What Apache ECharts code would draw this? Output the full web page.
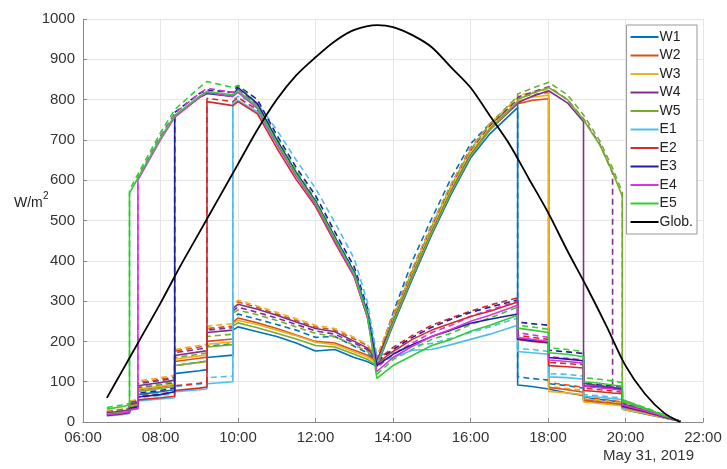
<!DOCTYPE html>
<html><head><meta charset="utf-8">
<script src="https://cdn.jsdelivr.net/npm/echarts@6/dist/echarts.min.js"></script>
<style>html,body{margin:0;padding:0;background:#fff}#c{width:727px;height:469px}</style>
</head><body><div id="c"></div>
<script>
// shared time grid (duplicate times = vertical jumps)
const T = ['06:37','07:00','07:12','07:12','07:25','07:25','08:00','08:22','08:22','09:00','09:12','09:12','09:52','09:52','10:00','10:30','11:00','11:30','12:00','12:30','13:00','13:20','13:35','14:00','14:30','15:00','15:30','16:00','16:30','17:13','17:13','17:35','18:01','18:01','18:30','18:55','18:55','19:20','19:40','19:40','19:55','19:55','20:30','21:00','21:25'];

const W1  = [18,22,25,36,40,68,75,80,120,127,130,160,166,228,236,224,212,196,176,180,160,150,138,240,355,465,565,655,715,780,92,88,82,78,72,66,52,48,45,44,42,32,20,10,2];
const W1d = [24,28,31,46,50,85,92,97,140,148,151,188,194,258,268,255,242,228,210,212,188,172,150,270,400,505,605,690,740,790,112,108,104,95,90,84,60,56,52,50,48,36,24,12,2];
const W2  = [20,25,28,40,44,80,87,92,150,158,161,200,206,248,258,246,232,216,200,196,178,166,150,250,365,475,575,665,725,790,792,798,802,86,80,74,55,50,47,46,44,34,22,11,2];
const W2d = [26,31,34,50,54,98,106,112,176,186,189,232,238,288,298,284,268,252,236,228,206,190,160,265,380,490,590,680,738,800,805,812,818,98,92,86,62,57,53,52,50,38,25,12,2];
const W3  = [19,24,27,39,43,82,89,94,156,164,167,193,199,244,252,242,228,214,198,192,174,162,146,252,368,478,578,668,730,796,798,806,811,76,72,68,50,46,43,42,40,32,21,10,2];
const W3d = [27,32,35,52,56,102,110,116,180,190,193,238,244,292,302,288,272,256,240,232,210,192,162,262,378,488,588,676,740,805,810,818,826,88,83,78,58,53,50,49,47,36,24,12,2];
const W4  = [22,27,30,44,48,90,98,104,165,174,177,222,228,282,292,280,265,248,232,224,200,184,152,248,362,472,572,662,726,792,796,808,822,824,792,745,96,90,86,85,82,45,28,13,2];
const W4d = [25,30,33,48,52,95,103,109,172,181,184,228,234,276,285,272,258,242,226,218,196,180,150,256,372,482,582,672,734,800,806,818,832,834,800,752,752,690,618,92,88,48,30,14,2];
const W5  = [20,24,27,38,42,76,83,88,140,148,151,186,192,238,246,234,220,206,190,186,168,156,140,245,360,470,570,660,725,795,800,815,830,832,800,750,750,688,620,620,560,52,32,15,2];
const W5d = [24,29,32,45,49,88,95,101,160,168,172,212,218,270,278,266,252,236,220,212,190,176,148,258,375,485,585,675,740,808,814,828,843,845,812,762,762,698,630,630,570,56,34,16,2];
const E1  = [15,18,21,30,33,52,57,60,75,80,82,95,100,790,798,770,690,612,545,458,372,275,150,160,178,180,192,205,218,240,175,172,168,112,110,106,64,61,58,57,56,36,24,11,2];
const E1d = [18,22,25,35,38,60,66,70,88,94,97,110,114,800,808,790,725,650,580,495,405,300,165,172,190,195,208,222,236,258,182,180,175,120,118,114,68,65,62,61,60,38,25,12,2];
const E2  = [16,20,23,32,35,55,60,64,78,84,87,795,785,785,795,765,680,602,535,445,360,262,145,175,205,228,245,262,275,298,205,200,196,140,137,134,78,75,72,71,70,38,25,12,2];
const E2d = [20,24,27,38,41,65,70,75,90,96,99,803,795,795,805,775,690,612,545,455,370,270,152,185,215,240,258,275,290,308,215,210,205,148,145,142,84,80,77,76,74,40,26,13,2];
const E3  = [17,21,24,34,38,62,68,75,760,805,815,815,808,808,830,790,700,618,548,458,372,272,140,168,192,212,228,245,255,268,206,202,198,160,156,152,90,86,83,82,80,40,27,13,2];
const E3d = [21,25,28,40,44,72,78,85,768,815,824,824,818,818,835,800,712,632,562,472,385,285,150,180,210,235,255,272,285,303,248,244,240,178,174,170,96,92,89,88,86,44,29,14,2];
const E4  = [18,22,25,30,33,600,700,756,758,805,818,818,808,808,818,778,690,610,540,450,362,262,125,160,188,212,230,250,265,290,210,205,200,154,150,146,88,85,82,80,78,42,28,14,2];
const E4d = [22,26,29,35,38,608,710,766,768,815,828,828,818,818,826,786,700,620,548,458,370,270,135,168,196,222,240,262,278,300,222,216,210,162,158,154,94,90,87,85,83,44,30,15,2];
const E5  = [32,38,42,568,605,605,705,760,762,808,820,820,812,812,822,782,695,615,545,455,368,268,108,140,165,190,205,225,240,265,233,228,222,172,168,162,100,96,92,90,88,50,34,16,2];
const E5d = [36,42,46,575,615,615,718,775,777,830,845,845,830,830,835,790,705,625,552,462,375,275,118,155,180,205,220,242,258,285,240,236,230,184,180,175,110,106,102,100,98,55,36,18,2];

const globTimes = ['06:37','07:00','07:30','08:00','08:30','09:00','09:30','10:00','10:30','11:00','11:30','12:00','12:30','13:00','13:36','14:00','14:30','15:00','15:30','16:00','16:30','17:00','17:30','18:00','18:30','19:00','19:30','20:00','20:30','21:00','21:25'];
const globVals  = [60,125,210,295,385,470,555,640,725,800,860,905,945,973,985,980,960,930,880,830,760,690,605,520,425,335,240,140,70,22,0];

const names = ['W1','W2','W3','W4','W5','E1','E2','E3','E4','E5','Glob.'];
const colors = ['#0072BD','#D95319','#EDB120','#7E2F8E','#77AC30','#4DBEEE','#D42A2A','#1F1F9E','#DD33DD','#33CC33','#000000'];
const xTicks = ['06:00','08:00','10:00','12:00','14:00','16:00','18:00','20:00','22:00'];

function hrs(s){const p=s.split(':');return +p[0]+(+p[1])/60;}
function pairs(times, vals){return times.map((t,i)=>[hrs(t), vals[i]]);}

const solid = [W1,W2,W3,W4,W5,E1,E2,E3,E4,E5];
const dashed = [W1d,W2d,W3d,W4d,W5d,E1d,E2d,E3d,E4d,E5d];
const FONT = 'Liberation Sans, Arial, sans-serif';

const series = [];
solid.forEach((arr,i)=>{
  series.push({name:names[i], type:'line', data:pairs(T,arr), showSymbol:false, symbol:'none',
    lineStyle:{color:colors[i], width:1.6}, itemStyle:{color:colors[i]}, animation:false, z:3});
});
dashed.forEach((arr,i)=>{
  series.push({name:names[i]+' (sim)', type:'line', data:pairs(T,arr), showSymbol:false, symbol:'none',
    lineStyle:{color:colors[i], width:1.6, type:[6,4]}, itemStyle:{color:colors[i]}, animation:false, z:2});
});
series.push({name:'Glob.', type:'line', data:pairs(globTimes, globVals), smooth:0.3, showSymbol:false, symbol:'none',
  lineStyle:{color:'#000', width:1.8}, itemStyle:{color:'#000'}, animation:false, z:4});

const chart = echarts.init(document.getElementById('c'), null, {renderer:'canvas'});
chart.setOption({
  backgroundColor:'#fff',
  animation:false,
  grid:{left:83, right:24, top:19, bottom:47, containLabel:false, outerBoundsMode:'none'},
  title:{text:'May 31, 2019', right:28, bottom:1, textStyle:{fontSize:15, fontWeight:'normal', color:'#333', fontFamily:FONT}},
  legend:{data:names, orient:'vertical', right:30, top:25, icon:'rect', itemWidth:28, itemHeight:2, itemGap:4.5,
    padding:[5,4,5,4], borderColor:'#999', borderWidth:1, backgroundColor:'#fff',
    textStyle:{fontSize:14, color:'#222', fontFamily:FONT, padding:[0,0,0,-4]}},
  graphic:[{type:'text', left:14, top:196, style:{text:'W/m', fontSize:14, fill:'#222', font:'14px '+FONT}},
           {type:'text', left:43, top:191, style:{text:'2', fontSize:10, fill:'#222', font:'10px '+FONT}}],
  xAxis:{type:'value', min:6, max:22, interval:2,
    axisLine:{lineStyle:{color:'#888'}}, axisTick:{inside:true, length:4, lineStyle:{color:'#888'}},
    axisLabel:{color:'#333', fontSize:15, margin:8, fontFamily:FONT,
      formatter:v=>xTicks[Math.round((v-6)/2)]},
    splitLine:{show:true, lineStyle:{color:'#e6e6e6'}}},
  yAxis:{type:'value', min:0, max:1000, interval:100,
    axisLine:{show:true, lineStyle:{color:'#888'}}, axisTick:{show:true, inside:true, length:4, lineStyle:{color:'#888'}},
    axisLabel:{color:'#333', fontSize:15, margin:8, fontFamily:FONT, formatter:v=>String(v)},
    splitLine:{show:true, lineStyle:{color:'#e6e6e6'}}},
  series:series
});
</script></body></html>
